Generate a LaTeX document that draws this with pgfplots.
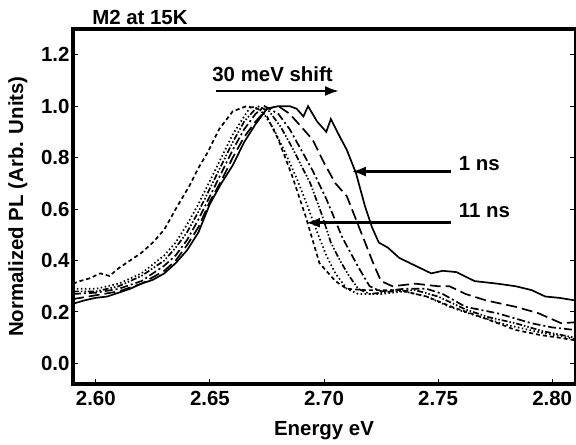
\documentclass[border=0pt]{standalone}
\usepackage{fontspec}
\setmainfont{Liberation Sans}
\usepackage{pgfplots}
\pgfplotsset{compat=1.18}
\usetikzlibrary{arrows.meta}

\newcommand{\bigbf}{\fontsize{20.5}{24}\selectfont\bfseries}

% PL spectra of M2 at 15K, 1 ns (solid) to 11 ns (short dash)
\pgfplotstableread{
x y
2.590 0.232
2.595 0.245
2.600 0.255
2.605 0.260
2.610 0.275
2.615 0.290
2.620 0.310
2.625 0.325
2.630 0.350
2.635 0.390
2.640 0.440
2.645 0.510
2.650 0.620
2.655 0.700
2.660 0.770
2.665 0.860
2.670 0.930
2.675 0.990
2.680 1.000
2.685 1.000
2.688 0.990
2.691 0.960
2.693 1.000
2.697 0.940
2.701 0.900
2.703 0.950
2.707 0.880
2.710 0.830
2.714 0.740
2.718 0.610
2.721 0.530
2.724 0.470
2.728 0.450
2.733 0.410
2.740 0.380
2.747 0.350
2.752 0.360
2.758 0.355
2.766 0.320
2.776 0.310
2.784 0.300
2.791 0.285
2.797 0.260
2.803 0.255
2.810 0.245
}\tA

\pgfplotstableread{
x y
2.590 0.250
2.600 0.265
2.610 0.280
2.620 0.310
2.630 0.360
2.635 0.400
2.640 0.460
2.645 0.530
2.650 0.630
2.655 0.710
2.660 0.800
2.665 0.880
2.670 0.940
2.675 0.990
2.680 1.000
2.685 0.970
2.690 0.920
2.695 0.870
2.700 0.780
2.705 0.700
2.710 0.650
2.714 0.560
2.718 0.470
2.722 0.380
2.725 0.320
2.730 0.300
2.740 0.310
2.750 0.300
2.755 0.300
2.762 0.270
2.771 0.245
2.784 0.220
2.794 0.195
2.804 0.156
2.810 0.160
}\tB

\pgfplotstableread{
x y
2.590 0.270
2.600 0.275
2.610 0.290
2.620 0.320
2.630 0.380
2.635 0.420
2.640 0.480
2.645 0.560
2.650 0.650
2.655 0.740
2.660 0.830
2.665 0.910
2.670 0.970
2.674 1.000
2.680 0.970
2.685 0.910
2.690 0.830
2.695 0.750
2.701 0.640
2.708 0.490
2.715 0.375
2.720 0.300
2.725 0.280
2.735 0.290
2.745 0.290
2.752 0.270
2.762 0.220
2.776 0.195
2.791 0.156
2.800 0.140
2.810 0.130
}\tC

\pgfplotstableread{
x y
2.590 0.280
2.600 0.280
2.610 0.300
2.620 0.340
2.630 0.400
2.635 0.450
2.640 0.510
2.645 0.590
2.650 0.680
2.655 0.770
2.660 0.860
2.665 0.940
2.671 1.000
2.676 0.980
2.681 0.920
2.686 0.840
2.690 0.770
2.694 0.700
2.699 0.580
2.703 0.470
2.707 0.400
2.711 0.340
2.715 0.290
2.720 0.270
2.730 0.280
2.740 0.285
2.750 0.260
2.762 0.210
2.772 0.180
2.784 0.156
2.796 0.125
2.810 0.100
}\tD

\pgfplotstableread{
x y
2.590 0.290
2.600 0.290
2.610 0.310
2.620 0.350
2.630 0.420
2.635 0.470
2.640 0.540
2.645 0.620
2.650 0.710
2.655 0.800
2.660 0.890
2.665 0.960
2.668 1.000
2.673 0.980
2.678 0.910
2.683 0.820
2.688 0.720
2.692 0.630
2.697 0.510
2.701 0.420
2.705 0.350
2.710 0.290
2.715 0.270
2.725 0.270
2.735 0.280
2.745 0.260
2.755 0.220
2.765 0.190
2.780 0.150
2.795 0.120
2.810 0.095
}\tE

\pgfplotstableread{
x y
2.590 0.310
2.593 0.320
2.597 0.330
2.602 0.350
2.606 0.340
2.610 0.370
2.615 0.400
2.620 0.430
2.625 0.470
2.630 0.520
2.635 0.600
2.641 0.690
2.645 0.760
2.649 0.820
2.654 0.910
2.660 0.980
2.666 1.000
2.671 0.990
2.675 0.960
2.680 0.870
2.686 0.730
2.692 0.570
2.698 0.390
2.701 0.360
2.705 0.320
2.710 0.290
2.718 0.285
2.733 0.285
2.745 0.260
2.756 0.220
2.769 0.180
2.784 0.130
2.795 0.110
2.803 0.100
2.810 0.090
}\tF

\begin{document}
\begin{tikzpicture}
\useasboundingbox (-73bp,-61bp) rectangle (503bp,384bp);
\begin{axis}[
    scale only axis,
    width=502bp, height=355bp,
    xmin=2.59, xmax=2.81,
    ymin=-0.08, ymax=1.3,
    xtick={2.60,2.65,2.70,2.75,2.80},
    ytick={0,0.2,0.4,0.6,0.8,1.0,1.2},
    xtick pos=bottom,
    ytick pos=both,
    tick align=inside,
    major tick length=5bp,
    tick style={line width=1pt, black},
    axis line style={draw=none},
    x tick label style={/pgf/number format/.cd, fixed, fixed zerofill, precision=2, /tikz/.cd, yshift=-4bp},
    y tick label style={/pgf/number format/.cd, fixed, fixed zerofill, precision=1},
    /pgf/number format/assume math mode=true,
    ticklabel style={font=\bigbf},
    label style={font=\bigbf},
    xlabel={Energy eV},
    ylabel={Normalized PL (Arb. Units)},
    xlabel style={at={(axis description cs:0.5,-0.132)}, anchor=center},
    ylabel style={at={(axis description cs:-0.11,0.5)}, anchor=center},
    clip mode=individual,
]
\addplot[black, line width=1.7pt, solid] table {\tA};
\addplot[black, line width=1.7pt, dash pattern=on 11pt off 5pt] table {\tB};
\addplot[black, line width=1.7pt, dash pattern=on 8pt off 3pt on 2pt off 3pt] table {\tC};
\addplot[black, line width=1.7pt, dash pattern=on 6pt off 2pt on 1.5pt off 2pt on 1.5pt off 2pt] table {\tD};
\addplot[black, line width=1.7pt, dash pattern=on 1.5pt off 2.5pt] table {\tE};
\addplot[black, line width=1.7pt, dash pattern=on 4pt off 3pt] table {\tF};

\node[anchor=base west, font=\bigbf, inner sep=0pt] at (axis description cs:0.038,1.0113) {M2 at 15K};
\node[anchor=base west, font=\bigbf, inner sep=0pt] at (axis cs:2.651,1.094) {30 meV shift};
\draw[line width=2.5bp, -{Latex[length=14bp,width=10bp]}] (axis cs:2.6528,1.059) -- (axis cs:2.7066,1.059);
\node[anchor=base west, font=\bigbf, inner sep=0pt] at (axis cs:2.759,0.75) {1 ns};
\draw[line width=2.5bp, -{Latex[length=14bp,width=10bp]}] (axis cs:2.7555,0.746) -- (axis cs:2.7122,0.746);
\node[anchor=base west, font=\bigbf, inner sep=0pt] at (axis cs:2.759,0.566) {11 ns};
\draw[line width=2.5bp, -{Latex[length=14bp,width=10bp]}] (axis cs:2.7555,0.547) -- (axis cs:2.6921,0.547);
\end{axis}
% frame: heavy left, bottom and top, thin right
\draw[line width=1.2bp] (current axis.south east) -- (current axis.north east);
\draw[line width=3.4bp, line cap=rect] (current axis.south east) -- (current axis.south west) -- (current axis.north west) -- (current axis.north east);
\end{tikzpicture}
\end{document}
